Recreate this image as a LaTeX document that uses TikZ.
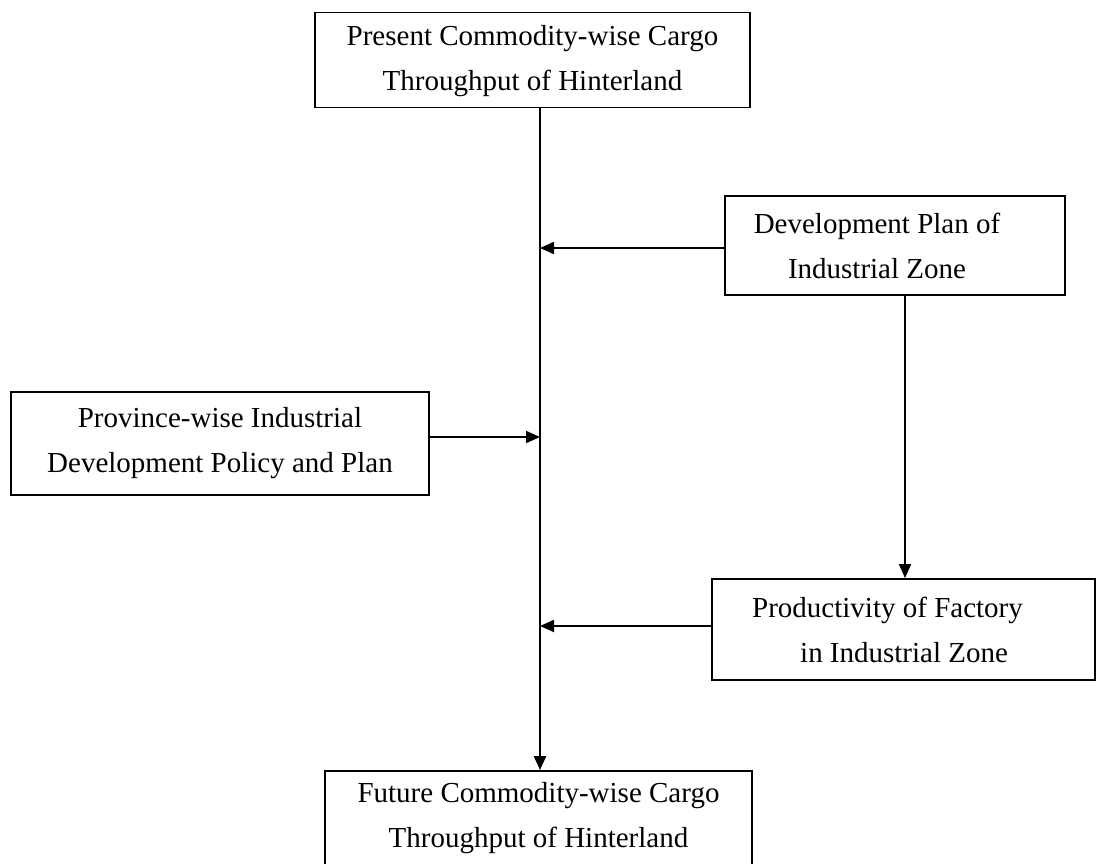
\documentclass[tikz,border=0pt]{standalone}
\usepackage{fontspec}
\setmainfont{Liberation Serif}
\usetikzlibrary{arrows.meta}
\begin{document}
\begin{tikzpicture}[x=1pt,y=-1pt,
  box/.style={draw, line width=1.9pt, rectangle, inner sep=0pt, align=center,
    font=\fontsize{29}{45}\selectfont},
  arr/.style={line width=1.8pt, -{Triangle[length=14pt,width=12pt]}}]
\clip (0,0) rectangle (1097,863);
\fill[white] (0,0) rectangle (1097,863);
\node[box, minimum width=435pt, minimum height=95pt, text depth=4pt] (top) at (532.5,60)
  {Present Commodity-wise Cargo\\Throughput of Hinterland};
\node[box, minimum width=340pt, minimum height=99pt] (dev) at (895,245.5)
  {Development Plan of\hspace*{36pt}\\Industrial Zone\hspace*{36pt}};
\node[box, minimum width=383pt, minimum height=101pt, align=left] (prod) at (903.5,629.5)
  {Productivity of Factory\hspace*{32pt}\\\hspace*{48pt}in Industrial Zone\hspace*{32pt}};
\node[box, minimum width=418pt, minimum height=103pt] (prov) at (220,443.5)
  {Province-wise Industrial\\Development Policy and Plan};
\node[box, minimum width=427pt, minimum height=110pt, text depth=22pt] (bot) at (538.5,826)
  {Future Commodity-wise Cargo\\Throughput of Hinterland};
\coordinate (j1) at (540,248);
\coordinate (j2) at (540,437);
\coordinate (j3) at (540,626);
\draw[arr, line width=2.6pt] (top.south -| j1) -- (bot.north -| j1);
\draw[arr] (dev.west |- j1) -- (j1);
\draw[arr] (prov.east |- j2) -- (j2);
\draw[arr] (prod.west |- j3) -- (j3);
\draw[arr] (dev.south -| 905,0) -- (prod.north -| 905,0);
\end{tikzpicture}
\end{document}
